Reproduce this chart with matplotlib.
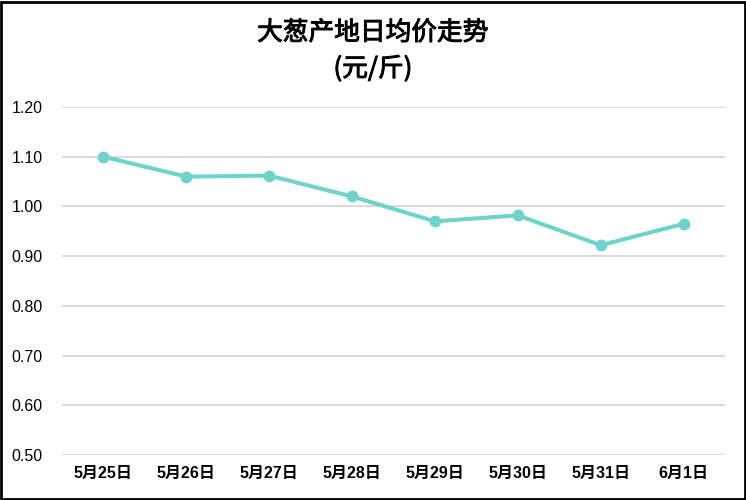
import matplotlib.pyplot as plt
import matplotlib.patheffects as pe
from matplotlib.patches import Rectangle

plt.rcParams['font.family'] = ['Liberation Sans', 'Noto Sans CJK SC', 'DejaVu Sans']

dates = ['5月25日', '5月26日', '5月27日', '5月28日', '5月29日', '5月30日', '5月31日', '6月1日']
prices = [1.10, 1.06, 1.062, 1.02, 0.97, 0.982, 0.922, 0.965]
yticks = [0.50, 0.60, 0.70, 0.80, 0.90, 1.00, 1.10, 1.20]

fig = plt.figure(figsize=(7.46, 5.0), dpi=100)
ax = fig.add_axes([0.083, 0.09, 0.889, 0.696])

x = list(range(len(dates)))
ax.plot(x, prices, color='#6dd3cb', linewidth=2.9, marker='o', markersize=7.5,
        solid_capstyle='round', zorder=3)

ax.set_xlim(-0.5, len(dates) - 0.5)
ax.set_ylim(0.5, 1.2)
ax.set_yticks(yticks)
ax.set_yticklabels([f'{v:.2f}' for v in yticks], fontsize=11.5)
ax.set_xticks(x)
ax.set_xticklabels(dates, fontsize=11.5, fontweight='bold')
ax.tick_params(length=0, pad=8)
ax.tick_params(axis='y', pad=14)
ax.grid(axis='y', color='#d9d9d9', linewidth=1.4)
ax.set_axisbelow(True)
for s in ax.spines.values():
    s.set_visible(False)

# slightly heavier than regular, lighter than bold
thick = [pe.withStroke(linewidth=0.7, foreground='black')]
fig.text(0.5, 0.934, '大葱产地日均价走势', ha='center', va='center', fontsize=18.5,
         family=['Noto Sans CJK SC'], path_effects=thick)
fig.text(0.5, 0.862, '(元/斤)', ha='center', va='center', fontsize=18.5,
         family=['Noto Sans CJK SC'], path_effects=thick)

fig.patches.append(Rectangle((0.002, 0.003), 0.996, 0.994, transform=fig.transFigure,
                             fill=False, edgecolor='black', linewidth=2))

fig.savefig('out.png', dpi=100)
